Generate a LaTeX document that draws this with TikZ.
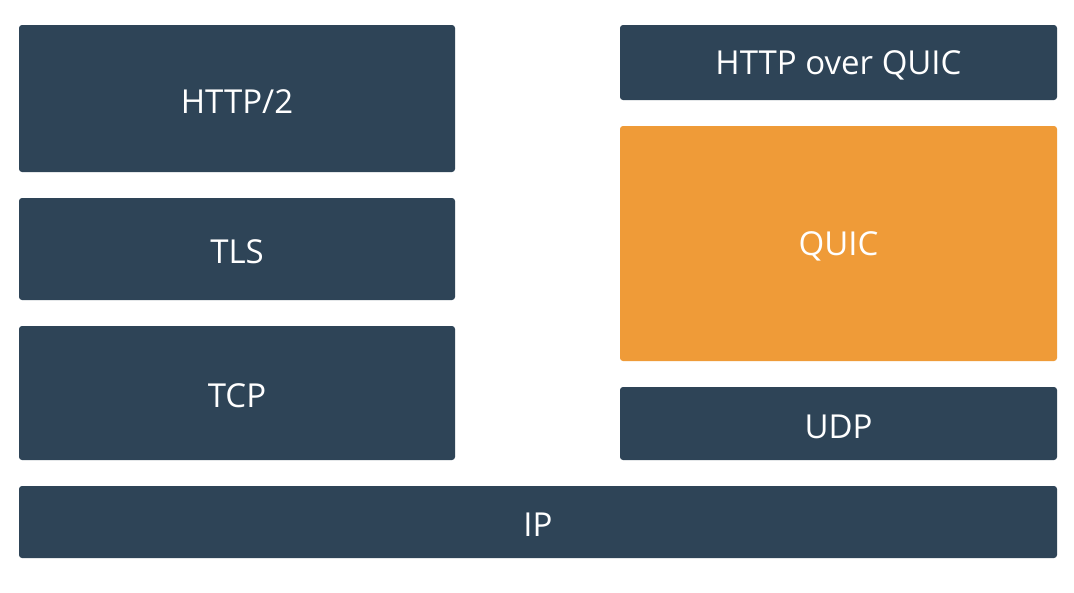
\documentclass[tikz,border=0pt]{standalone}
\usepackage{fontspec}
\setmainfont{Open Sans}
\definecolor{navy}{HTML}{2E4457}
\definecolor{qorange}{HTML}{EF9B38}
\begin{document}
\begin{tikzpicture}[x=1pt,y=-1pt,
  layer/.style={fill=navy,rounded corners=3pt,text=white,font=\fontsize{33}{38}\selectfont},
  hot/.style={layer,fill=qorange},
  lbl/.style={yshift=-3pt}]
\useasboundingbox[fill=white] (0,0) rectangle (1074,592);
\path[layer] (19,25) rectangle (455,172) node[midway,lbl] (http2) {HTTP/2};
\path[layer] (19,198) rectangle (455,300) node[midway,lbl] (tls) {TLS};
\path[layer] (19,326) rectangle (455,460) node[midway,lbl] (tcp) {TCP};
\path[layer] (620,25) rectangle (1057,100) node[midway,lbl] (hq) {HTTP over QUIC};
\path[hot] (620,126) rectangle (1057,361) node[midway,lbl] (quic) {QUIC};
\path[layer] (620,387) rectangle (1057,460) node[midway,lbl] (udp) {UDP};
\path[layer] (19,486) rectangle (1057,558) node[midway,lbl] (ip) {IP};
\end{tikzpicture}
\end{document}
